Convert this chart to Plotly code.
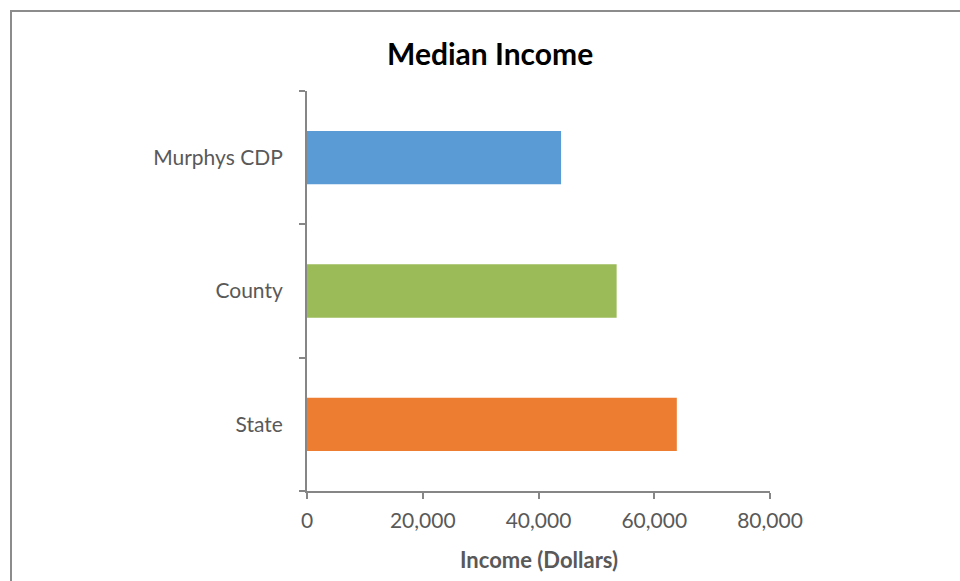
import plotly.graph_objects as go

# Median household income by geography
categories = ["Murphys CDP", "County", "State"]
incomes = [43900, 53500, 63900]
bar_colors = ["#5B9BD5", "#9BBB59", "#ED7D31"]
x_tick_values = [0, 20000, 40000, 60000, 80000]
x_tick_labels = ["0", "20,000", "40,000", "60,000", "80,000"]

W, H = 960, 581
L, R, T, B = 307, 190, 91, 90
pw, ph = W - L - R, H - T - B

def px_x(x):
    return (x - L) / pw

def px_y(y):
    return 1 - (y - T) / ph

FONT = "Lato"
AXIS_GRAY = "#868686"
TEXT_GRAY = "#595959"

fig = go.Figure(
    go.Bar(
        x=incomes,
        y=categories,
        orientation="h",
        marker=dict(color=bar_colors, line=dict(width=0)),
        width=0.4,
        hoverinfo="x+y",
    )
)

fig.update_layout(
    width=W,
    height=H,
    margin=dict(l=L, r=R, t=T, b=B),
    paper_bgcolor="white",
    plot_bgcolor="white",
    showlegend=False,
    font=dict(family=FONT, color=TEXT_GRAY, size=21),
    xaxis=dict(
        range=[0, 80000],
        tickvals=x_tick_values,
        ticktext=x_tick_labels,
        showgrid=False,
        zeroline=False,
        showline=True,
        linecolor=AXIS_GRAY,
        linewidth=2,
        ticks="outside",
        ticklen=6,
        tickwidth=2,
        tickcolor=AXIS_GRAY,
        ticklabelstandoff=4,
        tickfont=dict(family=FONT, size=21, color=TEXT_GRAY),
        fixedrange=True,
    ),
    yaxis=dict(
        categoryorder="array",
        categoryarray=categories[::-1],
        range=[-0.5, 2.5],
        showgrid=False,
        zeroline=False,
        showline=True,
        linecolor=AXIS_GRAY,
        linewidth=2,
        ticks="outside",
        ticklen=6,
        tickwidth=2,
        tickcolor=AXIS_GRAY,
        tickson="boundaries",
        ticklabelstandoff=18,
        tickfont=dict(family=FONT, size=21, color=TEXT_GRAY),
        fixedrange=True,
    ),
    annotations=[
        dict(
            text="<b>Median Income</b>",
            xref="paper", yref="paper",
            x=px_x(490), y=px_y(53),
            xanchor="center", yanchor="middle",
            showarrow=False,
            font=dict(family=FONT, size=30, color="#000000"),
        ),
        dict(
            text="<b>Income (Dollars)</b>",
            xref="paper", yref="paper",
            x=px_x(538.5), y=px_y(559),
            xanchor="center", yanchor="middle",
            showarrow=False,
            font=dict(family=FONT, size=22, color=TEXT_GRAY),
        ),
    ],
    shapes=[
        # outer chart frame
        dict(
            type="rect",
            xref="paper", yref="paper",
            x0=px_x(11), y0=px_y(11), x1=px_x(1100), y1=px_y(700),
            line=dict(color="#8C8C8C", width=2),
            fillcolor="rgba(0,0,0,0)",
            layer="below",
        ),
    ],
)

fig.write_html("out.html")
